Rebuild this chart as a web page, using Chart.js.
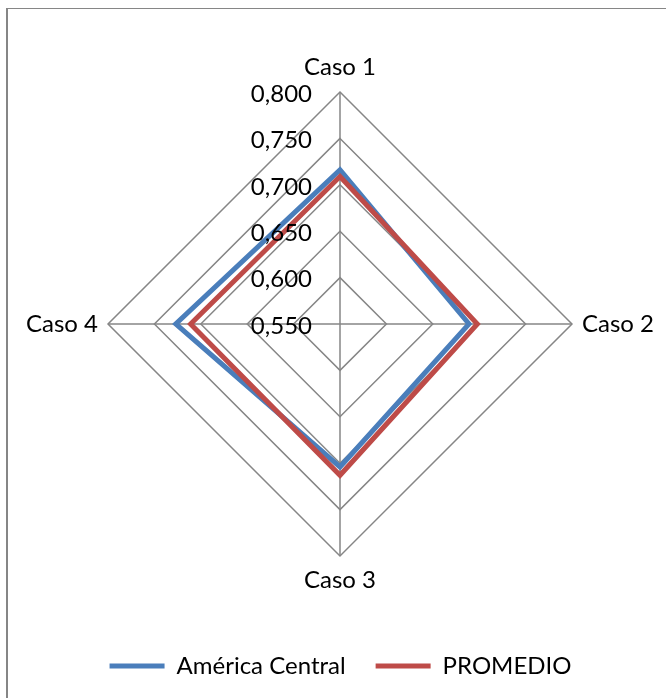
<!DOCTYPE html>
<html><head><meta charset="utf-8">
<script src="https://cdn.jsdelivr.net/npm/chart.js@4/dist/chart.umd.min.js"></script>
<style>
html,body{margin:0;padding:0;background:#fff;overflow:hidden;width:666px;height:698px;}
#frame{position:absolute;left:6px;top:8px;width:800px;height:800px;border-top:1px solid #868686;border-left:2px solid #868686;}
#wrap{position:absolute;left:0;top:0;width:666px;height:698px;}
</style></head><body>
<div id="frame"></div>
<div id="wrap"><canvas id="c" width="666" height="698"></canvas></div>
<script>
const categories = ['Caso 1', 'Caso 2', 'Caso 3', 'Caso 4'];
const americaCentral = [0.716, 0.689, 0.704, 0.727];
const promedio = [0.709, 0.698, 0.713, 0.711];
const seriesNames = ['América Central', 'PROMEDIO'];
const tickValues = [0.55, 0.60, 0.65, 0.70, 0.75, 0.80];

const FONT = 'Lato';
const gridColor = '#868686';

const tickLabelPlugin = {
  id: 'tickLabels',
  afterDatasetsDraw(chart) {
    const s = chart.scales.r;
    const ctx = chart.ctx;
    ctx.save();
    ctx.font = '24px ' + FONT;
    ctx.fillStyle = '#000';
    ctx.textAlign = 'right';
    ctx.textBaseline = 'middle';
    tickValues.forEach(v => {
      const d = s.getDistanceFromCenterForValue(v);
      ctx.fillText(v.toFixed(3).replace('.', ','), s.xCenter - 28, s.yCenter - d + 2);
    });
    ctx.restore();
  }
};

new Chart(document.getElementById('c'), {
  type: 'radar',
  data: {
    labels: categories,
    datasets: [
      {
        label: seriesNames[0], data: americaCentral,
        borderColor: '#4A7EBB', backgroundColor: 'rgba(0,0,0,0)',
        borderWidth: 5, pointRadius: 0, borderCapStyle: 'round', borderJoinStyle: 'miter',
        order: 1, fill: false
      },
      {
        label: seriesNames[1], data: promedio,
        borderColor: '#BE4B48', backgroundColor: 'rgba(0,0,0,0)',
        borderWidth: 5, pointRadius: 0, borderCapStyle: 'round', borderJoinStyle: 'miter',
        order: 0, fill: false
      }
    ]
  },
  options: {
    responsive: false,
    animation: false,
    layout: { padding: { left: 26, right: 11, top: 25, bottom: 10 } },
    plugins: {
      tooltip: { enabled: false },
      legend: {
        position: 'bottom',
        labels: {
          usePointStyle: true, pointStyle: 'line', pointStyleWidth: 55,
          font: { family: FONT, size: 24 }, color: '#000', padding: 30,
          sort: (a, b) => a.datasetIndex - b.datasetIndex
        }
      }
    },
    scales: {
      r: {
        min: 0.55, max: 0.8,
        ticks: { stepSize: 0.05, display: false },
        grid: { circular: false, color: gridColor, lineWidth: 1.5 },
        angleLines: { color: gridColor, lineWidth: 1.5 },
        pointLabels: { font: { family: FONT, size: 24 }, color: '#000', padding: 10 }
      }
    }
  },
  plugins: [tickLabelPlugin]
});
</script>
</body></html>
